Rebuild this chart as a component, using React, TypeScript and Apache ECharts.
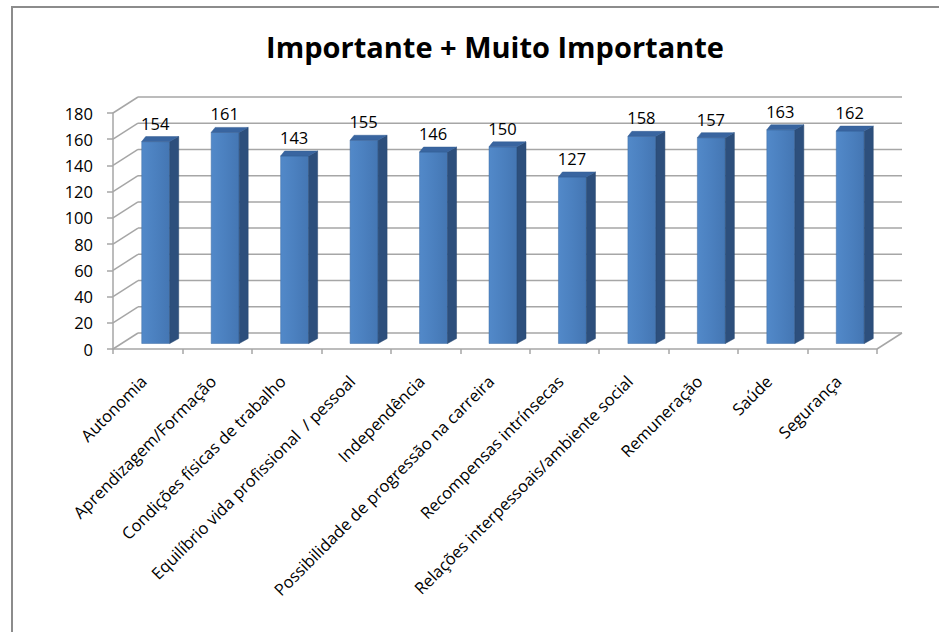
import React, { useEffect, useRef } from "react";
import * as echarts from "echarts";

const titleText = "Importante + Muito Importante";
const categories = [
  "Autonomia",
  "Aprendizagem/Formação",
  "Condições físicas de trabalho",
  "Equilíbrio vida profissional  / pessoal",
  "Independência",
  "Possibilidade de progressão na carreira",
  "Recompensas intrínsecas",
  "Relações interpessoais/ambiente social",
  "Remuneração",
  "Saúde",
  "Segurança",
];
const values = [154, 161, 143, 155, 146, 150, 127, 158, 157, 163, 162];
const yTicks = [0, 20, 40, 60, 80, 100, 120, 140, 160, 180];

const FONT = "'Open Sans', 'Liberation Sans', sans-serif";
const GRID_COLOR = "#a6a6a6";
const DEPTH_X = 25;
const DEPTH_Y = -16;

export default function App() {
  const ref = useRef<HTMLDivElement>(null);
  useEffect(() => {
    if (!ref.current) return;
    const chart = echarts.init(ref.current, null, { renderer: "svg" });
    const n = categories.length;
    chart.setOption({
      animation: false,
      backgroundColor: "#ffffff",
      title: {
        text: titleText,
        left: 490,
        top: 27,
        textAlign: "center",
        textStyle: { fontFamily: FONT, fontWeight: "bold", fontSize: 29, color: "#000" },
      },
      graphic: [
        {
          type: "rect",
          shape: { x: 12, y: 7, width: 1100, height: 800 },
          style: { fill: "none", stroke: "#8c8c8c", lineWidth: 2 },
          silent: true,
        },
      ],
      grid: { left: 113, right: 62, top: 113, bottom: 283, containLabel: false },
      xAxis: {
        type: "category",
        data: categories,
        axisLine: { show: true, lineStyle: { color: GRID_COLOR, width: 1.5 } },
        axisTick: { show: true, length: 5, lineStyle: { color: GRID_COLOR, width: 1.5 } },
        axisLabel: {
          rotate: 45,
          interval: 0,
          margin: 25,
          padding: [0, 6, 0, 0],
          fontFamily: FONT,
          fontSize: 16.5,
          color: "#000",
        },
        splitLine: { show: false },
      },
      yAxis: {
        type: "value",
        min: 0,
        max: 180,
        interval: 20,
        axisLine: { show: true, lineStyle: { color: GRID_COLOR, width: 1.5 } },
        axisTick: { show: true, length: 6, lineStyle: { color: GRID_COLOR, width: 1.5 } },
        axisLabel: { margin: 20, fontFamily: FONT, fontSize: 16.5, color: "#000" },
        splitLine: { show: false },
      },
      series: [
        {
          type: "custom",
          z: 1,
          silent: true,
          data: yTicks.map((v) => [0, v]),
          renderItem: (params: any, api: any) => {
            const v = api.value(1);
            const p = api.coord([0, v]);
            const w = api.size([1, 0])[0];
            const left = p[0] - w / 2;
            const right = api.coord([n - 1, v])[0] + w / 2;
            const y = p[1];
            const ls = { stroke: GRID_COLOR, lineWidth: 1.5 };
            const children: any[] = [
              { type: "line", shape: { x1: left, y1: y, x2: left + DEPTH_X, y2: y + DEPTH_Y }, style: ls },
              {
                type: "line",
                shape: { x1: left + DEPTH_X, y1: y + DEPTH_Y, x2: right + DEPTH_X, y2: y + DEPTH_Y },
                style: ls,
              },
            ];
            if (v === 0) {
              children.push({
                type: "line",
                shape: { x1: right, y1: y, x2: right + DEPTH_X, y2: y + DEPTH_Y },
                style: ls,
              });
            }
            return { type: "group", children };
          },
        },
        {
          type: "custom",
          z: 2,
          data: values.map((v, i) => [i, v]),
          renderItem: (params: any, api: any) => {
            const i = api.value(0);
            const v = api.value(1);
            const top = api.coord([i, v]);
            const base = api.coord([i, 0]);
            const cx = top[0];
            const off = -5.5;
            const x0 = cx - 6;
            const bw = 28;
            const x1 = x0 + bw;
            const yT = top[1] + off;
            const yB = base[1] + off;
            const sdx = 9;
            const tdx = 4;
            const dy = -5;
            return {
              type: "group",
              children: [
                {
                  type: "rect",
                  shape: { x: x0, y: yT, width: bw, height: yB - yT },
                  style: {
                    fill: new echarts.graphic.LinearGradient(0, 0, 1, 0, [
                      { offset: 0, color: "#5289c9" },
                      { offset: 0.5, color: "#4b80bf" },
                      { offset: 1, color: "#4476b3" },
                    ]),
                    stroke: "#3f6ca5",
                    lineWidth: 0.5,
                  },
                },
                {
                  type: "polygon",
                  shape: {
                    points: [
                      [x1, yB],
                      [x1, yT],
                      [x1 + sdx, yT + dy],
                      [x1 + sdx, yB + dy],
                    ],
                  },
                  style: { fill: "#2d4f7c", stroke: "#294870", lineWidth: 0.5 },
                },
                {
                  type: "polygon",
                  shape: {
                    points: [
                      [x0, yT],
                      [x1, yT],
                      [x1 + sdx, yT + dy],
                      [x0 + tdx, yT + dy],
                    ],
                  },
                  style: { fill: "#3965a0", stroke: "#335c92", lineWidth: 0.5 },
                },
                {
                  type: "text",
                  style: {
                    text: String(v),
                    x: cx + 7.5,
                    y: top[1] - 24,
                    align: "center",
                    verticalAlign: "middle",
                    fontFamily: FONT,
                    fontSize: 16.5,
                    fill: "#000",
                  },
                },
              ],
            };
          },
        },
      ],
    });
    return () => chart.dispose();
  }, []);
  return (
    <div
      ref={ref}
      style={{ position: "fixed", left: 0, top: 0, width: 939, height: 632, background: "#fff" }}
    />
  );
}
